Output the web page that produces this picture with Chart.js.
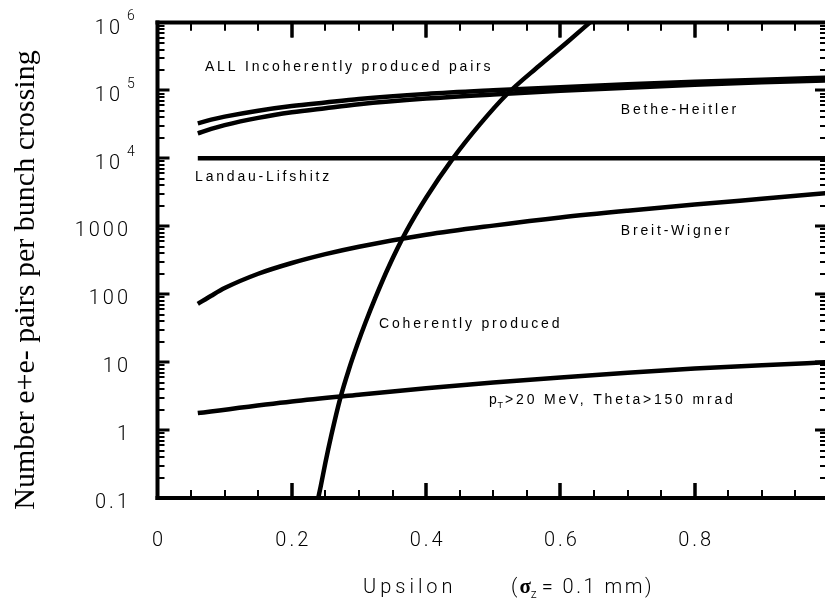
<!DOCTYPE html>
<html>
<head>
<meta charset="utf-8">
<title>Number of e+e- pairs per bunch crossing</title>
<script src="https://cdn.jsdelivr.net/npm/chart.js@4.4.1/dist/chart.umd.min.js"></script>
<style>
  html, body { margin: 0; padding: 0; background: #fff; }
  #wrap { width: 825px; height: 603px; position: relative; }
</style>
</head>
<body>
<div id="wrap"><canvas id="pairs_chart"></canvas></div>
<script>
"use strict";

// Upsilon values shared by the incoherent curves
const upsilon = [0.06, 0.08, 0.1, 0.15, 0.2, 0.25, 0.3, 0.4, 0.5, 0.6, 0.7, 0.8, 0.9, 1.0];
const allIncoherent = [32800, 37100, 41100, 50300, 58900, 66550, 74800, 88600, 100300, 111750, 122900, 134000, 144100, 153700];
const betheHeitler = [23400, 27150, 30830, 39410, 47570, 54850, 62700, 75800, 87270, 98600, 109900, 121000, 131500, 141200];
const breitWigner = [72, 95, 123, 200, 288, 389, 501, 750, 1023, 1349, 1698, 2089, 2541, 3090];

const landauX = [0.06, 1.0];
const landau = [10000, 10000];

const ptCutX = [0.06, 0.2, 0.3, 0.4, 0.5, 0.6, 0.7, 0.8, 0.9, 1.0];
const ptCut = [1.78, 2.63, 3.31, 4.12, 5.01, 5.96, 7.0, 8.04, 9.02, 10];

const coherentX = [0.238, 0.243, 0.25, 0.259, 0.272, 0.285, 0.298, 0.31, 0.324, 0.345, 0.369, 0.4, 0.44, 0.48, 0.52, 0.568, 0.61, 0.645];
const coherent = [0.087, 0.148, 0.33, 0.85, 2.9, 7.8, 18.6, 38.9, 87, 263, 794, 2630, 10000, 31600, 87100, 229000, 513000, 1023000];

// tick labels
const xTickValues = [0, 0.2, 0.4, 0.6, 0.8];
const xTickLabels = ['0', '0.2', '0.4', '0.6', '0.8'];
const yTickValues = [0.1, 1, 10, 100, 1000, 1e4, 1e5, 1e6];
const yTickLabels = ['0.1', '1', '10', '100', '1000', '10', '10', '10'];
const yTickPowers = ['', '', '', '', '', '4', '5', '6'];

function zip(xs, ys) {
    return xs.map(function(x, i){ return { x: x, y: ys[i] }; });
}

function curve(xs, ys) {
    return {
        data: zip(xs, ys),
        borderColor: '#000',
        backgroundColor: '#000',
        borderWidth: 4.5,
        pointRadius: 0,
        fill: false,
        cubicInterpolationMode: 'monotone'
    };
}

// inward ticks along the top and bottom edges
function drawXTicks(chart) {
    const c = chart.ctx;
    const a = chart.chartArea;
    const sx = chart.scales.x;
    c.save();
    c.fillStyle = '#000';
    for (let i = 1; i < 20; i++) {
        const tickX = Math.round(sx.getPixelForValue(i * 0.05));
        const big = i % 4 === 0;
        const tl = big ? 15 : 8;
        const tw = big ? 3 : 2;
        c.fillRect(tickX - tw / 2, a.bottom - tl, tw, tl);
        c.fillRect(tickX - tw / 2, a.top, tw, tl);
    }
    c.restore();
}

// box and inward tick marks (the right edge of the original is cut off)
const axesBox = {
    id: 'axesBox',
    afterDraw: function(chart) {
        const c = chart.ctx;
        const a = chart.chartArea;
        const sy = chart.scales.y;
        c.save();
        c.fillStyle = '#000';
        // left, top and bottom edges
        c.fillRect(a.left - 2, a.top - 2, 4, a.bottom - a.top + 4);
        c.fillRect(a.left - 2, a.top - 2, a.right - a.left + 4, 4);
        c.fillRect(a.left - 2, a.bottom - 2, a.right - a.left + 4, 4);
        for (let e = -1; e <= 5; e++) {
            for (let m = 1; m <= 9; m++) {
                const tickY = Math.round(sy.getPixelForValue(m * Math.pow(10, e)));
                const big = m === 1;
                const tl = big ? 12 : 7;
                const tw = big ? 3 : 2;
                c.fillRect(a.left, tickY - tw / 2, tl, tw);
                c.fillRect(a.right - tl + 2, tickY - tw / 2, tl, tw);
            }
        }
        c.restore();
        drawXTicks(chart);
    }
};

// tick labels, curve notes and axis titles
const texts = {
    id: 'texts',
    afterDraw: function(chart) {
        const ctx = chart.ctx;
        const xs = chart.scales.x;
        const ys = chart.scales.y;

        ctx.save();
        ctx.fillStyle = '#000';
        ctx.letterSpacing = '3px';
        ctx.textBaseline = 'middle';
        ctx.font = '300 20px Roboto';
        ctx.textAlign = 'center';
        xTickValues.forEach(function(v, i){
            ctx.fillText(xTickLabels[i], xs.getPixelForValue(v) + 1.5, 541);
        });
        yTickValues.forEach(function(v, i){
            const ly = ys.getPixelForValue(v);
            ctx.font = '300 20px Roboto';
            ctx.textAlign = 'right';
            if (yTickPowers[i]) {
                ctx.fillText(yTickLabels[i], 123, ly + 6);
                ctx.font = '300 14px Roboto';
                ctx.textAlign = 'left';
                ctx.fillText(yTickPowers[i], 127, ly - 6);
            } else {
                ctx.fillText(yTickLabels[i], 131, ly + 5);
            }
        });

        // curve notes
        ctx.font = '14px "Liberation Sans"';
        ctx.textAlign = 'left';
        ctx.letterSpacing = '2.8px';
        const notes = [
            ['ALL Incoherently produced pairs', 0.0707, 2.2e5],
            ['Bethe-Heitler', 0.690, 51500],
            ['Landau-Lifshitz', 0.056, 5320],
            ['Breit-Wigner', 0.690, 853],
            ['Coherently produced', 0.330, 36.5]
        ];
        notes.forEach(function(n){
            ctx.fillText(n[0], xs.getPixelForValue(n[1]), ys.getPixelForValue(n[2]));
        });
        let nx = xs.getPixelForValue(0.4937);
        const ny = ys.getPixelForValue(2.77);
        ctx.fillText('p', nx, ny);
        nx += ctx.measureText('p').width;
        ctx.font = '9px "Liberation Sans"';
        ctx.letterSpacing = '1px';
        ctx.fillText('T', nx - 2, ny + 6);
        nx += ctx.measureText('T').width - 1;
        ctx.font = '14px "Liberation Sans"';
        ctx.letterSpacing = '2.8px';
        ctx.fillText('>20 MeV, Theta>150 mrad', nx, ny);

        // x axis title
        ctx.textBaseline = 'alphabetic';
        ctx.font = '300 20px Roboto';
        ctx.letterSpacing = '4px';
        ctx.fillText('Upsilon', 363, 593);
        let ux = 511;
        ctx.letterSpacing = '2px';
        ctx.fillText('(', ux, 593);
        ux += ctx.measureText('(').width;
        ctx.font = 'bold 21px "Liberation Serif"';
        ctx.letterSpacing = '0px';
        ctx.fillText('\u03c3', ux, 593);
        ux += ctx.measureText('\u03c3').width;
        ctx.font = '300 12px Roboto';
        ctx.fillText('z', ux, 598);
        ux += ctx.measureText('z').width + 5;
        ctx.font = '300 20px Roboto';
        ctx.letterSpacing = '2.5px';
        ctx.fillText('= 0.1 mm)', ux, 593);

        // y axis title
        ctx.letterSpacing = '0px';
        ctx.font = '30px "Liberation Serif"';
        ctx.textAlign = 'center';
        ctx.translate(34, 280);
        ctx.rotate(-Math.PI / 2);
        ctx.fillText('Number e+e- pairs per bunch crossing', 0, 0);

        ctx.restore();

        // ticks once more on top of everything
        drawXTicks(chart);
    }
};

const pairsChart = new Chart(document.getElementById('pairs_chart').getContext('2d'), {
    type: 'line',
    data: {
        datasets: [
            curve(upsilon, allIncoherent),
            curve(upsilon, betheHeitler),
            curve(landauX, landau),
            curve(upsilon, breitWigner),
            curve(ptCutX, ptCut),
            curve(coherentX, coherent)
        ]
    },
    options: {
        responsive: true,
        maintainAspectRatio: false,
        animation: false,
        layout: { padding: { left: 0, top: 22.5, right: 0, bottom: 0 } },
        plugins: {
            legend: { display: false },
            tooltip: { enabled: false }
        },
        scales: {
            x: {
                type: 'linear',
                min: 0,
                max: 0.994,
                grid: { display: false },
                border: { display: false },
                ticks: { display: false },
                afterFit: function(s){ s.height = 105; }
            },
            y: {
                type: 'logarithmic',
                min: 0.1,
                max: 1e6,
                grid: { display: false },
                border: { display: false },
                ticks: { display: false },
                afterFit: function(s){ s.width = 157.5; }
            }
        }
    },
    plugins: [axesBox, texts]
});
</script>
</body>
</html>
